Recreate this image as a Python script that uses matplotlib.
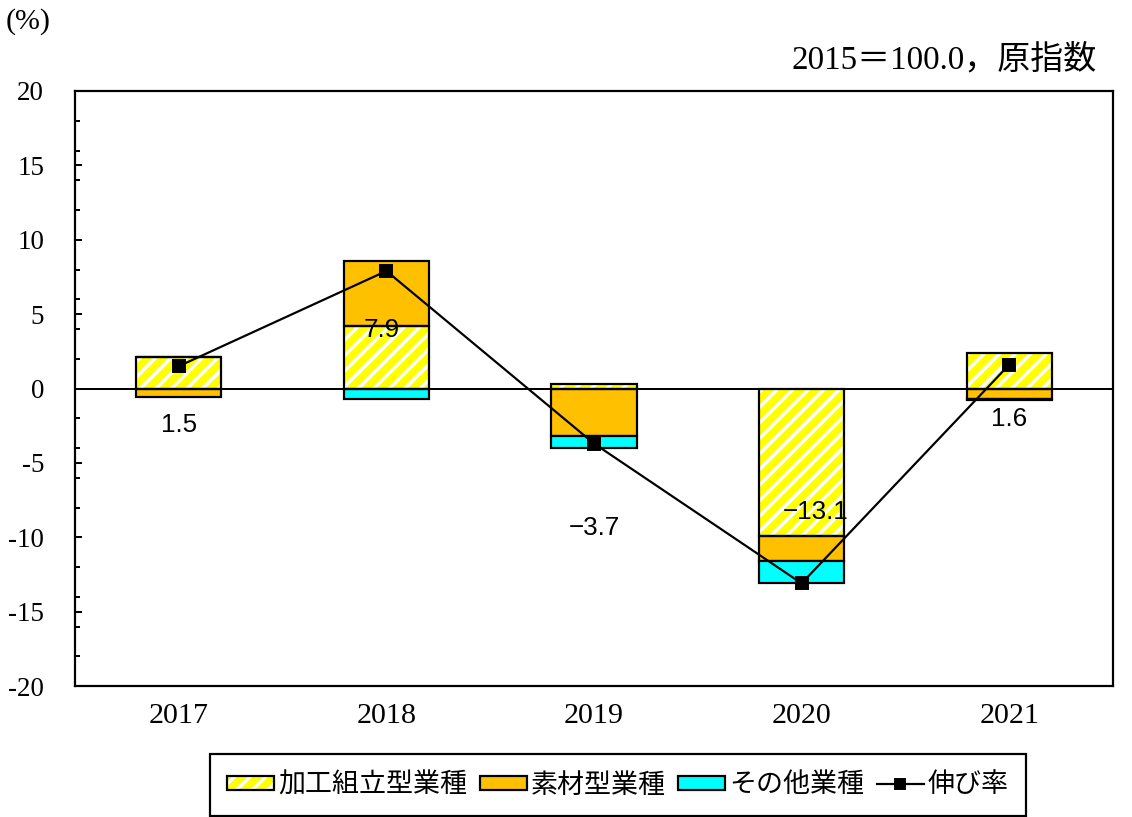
import matplotlib
matplotlib.use("Agg")
import matplotlib.pyplot as plt
from matplotlib.patches import Patch
from matplotlib.lines import Line2D
from matplotlib.ticker import MultipleLocator
import numpy as np

# ---- data ----
years = ['2017', '2018', '2019', '2020', '2021']
kako = [2.1, 4.2, 0.3, -9.9, 2.4]        # 加工組立型業種
sozai = [-0.6, 4.4, -3.2, -1.7, -0.7]    # 素材型業種
sonota = [0.0, -0.7, -0.8, -1.5, -0.1]   # その他業種
growth = [1.5, 7.9, -3.7, -13.1, 1.6]    # 伸び率
series_names = ['加工組立型業種', '素材型業種', 'その他業種', '伸び率']
yticks = [20, 15, 10, 5, 0, -5, -10, -15, -20]

# ---- style ----
W, H, DPI = 1132, 817, 140
def pt(px):
    return px * 72.0 / DPI

plt.rcParams['axes.unicode_minus'] = False
plt.rcParams['hatch.linewidth'] = pt(3.5)

c_yellow = '#FFFF00'
c_orange = '#FFC000'
c_cyan = '#00FFFF'

fig = plt.figure(figsize=(W / DPI, H / DPI), dpi=DPI)
ax = fig.add_axes([75 / W, 1 - 686 / H, (1113 - 75) / W, (686 - 91) / H])

x = np.arange(len(years))
bw = 0.41
pos = np.zeros(len(years))
neg = np.zeros(len(years))
edge_lw = pt(2.2)

def stack(vals, color, hatch=None):
    global pos, neg
    v = np.array(vals, dtype=float)
    bottoms = np.where(v >= 0, pos, neg)
    if hatch:
        ax.bar(x, v, bw, bottom=bottoms, color=color, edgecolor='white',
               hatch=hatch, linewidth=0, zorder=2)
        ax.bar(x, v, bw, bottom=bottoms, facecolor='none', edgecolor='black',
               linewidth=edge_lw, zorder=2.1)
    else:
        ax.bar(x, v, bw, bottom=bottoms, color=color, edgecolor='black',
               linewidth=edge_lw, zorder=2)
    pos = pos + np.where(v >= 0, v, 0)
    neg = neg + np.where(v < 0, v, 0)

stack(kako, c_yellow, hatch='///')
stack(sozai, c_orange)
stack(sonota, c_cyan)

ax.axhline(0, color='black', linewidth=pt(2), zorder=2.5)

ax.plot(x, growth, color='black', linewidth=pt(2.2), marker='s',
        markersize=pt(12), markerfacecolor='black', markeredgecolor='black',
        zorder=4)

# data labels (offsets in pixels from the point)
label_offsets_px = [(0, -59), (-5, -59), (0, -84), (14, 71), (0, -54)]
for xi, g, (dx, dy) in zip(x, growth, label_offsets_px):
    txt = f'{g:.1f}'.replace('-', '\u2212')
    ax.annotate(txt, (xi, g), xytext=(pt(dx), pt(dy)), textcoords='offset points',
                ha='center', va='center', fontsize=pt(26),
                family=['Liberation Sans', 'DejaVu Sans'], zorder=5)

ax.set_xlim(-0.5, len(years) - 0.5)
ax.set_ylim(-20, 20)
ax.set_xticks(x)
ax.set_xticklabels(years, family='Liberation Serif', fontsize=pt(30))
ax.set_yticks(yticks)
ax.set_yticklabels([str(t) for t in yticks], family='Liberation Serif', fontsize=pt(27))
ax.yaxis.set_minor_locator(MultipleLocator(2))
ax.tick_params(axis='y', which='major', direction='in', length=pt(7), width=pt(2), pad=pt(31))
ax.tick_params(axis='y', which='minor', direction='in', length=pt(5), width=pt(2))
ax.tick_params(axis='x', which='both', length=0, pad=pt(17))
for s in ax.spines.values():
    s.set_linewidth(pt(2.2))
    s.set_color('black')

# texts
fig.text(6 / W, 1 - 22 / H, '(%)', ha='left', va='center', fontsize=pt(30),
         family=['Liberation Serif', 'Noto Sans CJK JP'])
fig.text(1097 / W, 1 - 60 / H, '2015＝100.0，原指数', ha='right', va='center',
         fontsize=pt(33), family=['Liberation Serif', 'Noto Sans CJK JP'])

# legend
h_kako = (Patch(facecolor=c_yellow, edgecolor='white', hatch='///', linewidth=0),
          Patch(facecolor='none', edgecolor='black', linewidth=edge_lw))
h_sozai = Patch(facecolor=c_orange, edgecolor='black', linewidth=edge_lw)
h_sonota = Patch(facecolor=c_cyan, edgecolor='black', linewidth=edge_lw)
h_line = Line2D([], [], color='black', linewidth=pt(2.2), marker='s',
                markersize=pt(10), markerfacecolor='black')
leg = fig.legend([h_kako, h_sozai, h_sonota, h_line], series_names,
                 loc='center', bbox_to_anchor=(618 / W, 1 - 785 / H), ncol=4,
                 prop={'family': ['Noto Sans CJK JP', 'DejaVu Sans'], 'size': pt(27)},
                 frameon=True, fancybox=False, edgecolor='black', framealpha=1,
                 handlelength=1.75, handleheight=0.4, handletextpad=0.15,
                 columnspacing=0.45, borderpad=0.65, borderaxespad=0)
leg.get_frame().set_linewidth(pt(2.2))

fig.savefig('out.png', dpi=DPI)
